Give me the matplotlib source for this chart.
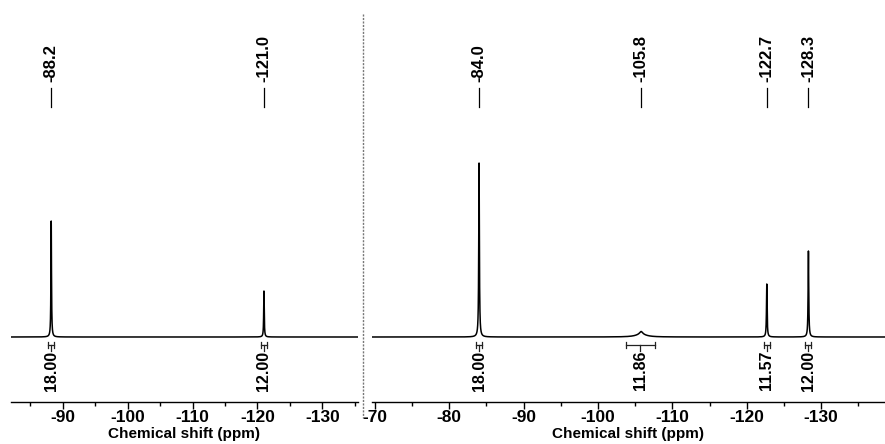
import numpy as np
import matplotlib.pyplot as plt
from matplotlib.lines import Line2D
from matplotlib.ticker import MultipleLocator

plt.rcParams['font.family'] = ['Liberation Sans', 'DejaVu Sans']
plt.rcParams['font.weight'] = 'bold'
plt.rcParams['axes.unicode_minus'] = False

# left spectrum: peak shifts (ppm), heights (arb.), half widths (ppm)
left_shifts = [-88.2, -121.0]
left_heights = [116, 46]
left_widths = [0.05, 0.05]
left_integrals = ["18.00", "12.00"]
left_int_ranges = [(-87.75, -88.65), (-120.55, -121.45)]

# right spectrum (the -105.8 signal is a broad base plus a small tip)
right_shifts = [-84.0, -105.8, -105.8, -122.7, -128.3]
right_heights = [174, 2.5, 3, 53, 86]
right_widths = [0.05, 0.9, 0.25, 0.05, 0.05]
right_labels = [-84.0, -105.8, -122.7, -128.3]
right_integrals = ["18.00", "11.86", "11.57", "12.00"]
right_int_ranges = [(-83.6, -84.4), (-103.7, -107.6), (-122.3, -123.1), (-127.9, -128.7)]


def spectrum(x, shifts, heights, widths):
    y = np.zeros_like(x)
    for s, h, w in zip(shifts, heights, widths):
        y += h * w**2 / ((x - s)**2 + w**2)
    return y


def draw_panel(ax, xlim, shifts, heights, widths, labels, integrals, ranges):
    x = np.linspace(xlim[0], xlim[1], 30000)
    ax.plot(x, spectrum(x, shifts, heights, widths), color="black", lw=1.1)
    ax.set_xlim(xlim)
    ax.set_ylim(-65, 337)
    for sp in ["top", "left", "right"]:
        ax.spines[sp].set_visible(False)
    ax.spines["bottom"].set_linewidth(1.0)
    ax.set_yticks([])
    ax.xaxis.set_major_locator(MultipleLocator(10))
    ax.xaxis.set_minor_locator(MultipleLocator(5))
    ax.tick_params(axis="x", which="major", length=5, width=1, labelsize=12.5, pad=1)
    ax.tick_params(axis="x", which="minor", length=3, width=1)
    for t in ax.get_xticklabels():
        t.set_fontweight("bold")
    ax.set_xlabel("Chemical shift (ppm)", fontsize=11, fontweight="bold", labelpad=1)

    tr = ax.get_xaxis_transform()
    for p in labels:
        ax.plot([p, p], [0.734, 0.781], transform=tr, color="black", lw=0.9)
        ax.text(p, 0.796, f"{p:.1f}", transform=tr, rotation=90, ha="center",
                va="bottom", fontsize=12, fontweight="bold")

    # integral brackets below the baseline
    for val, (a, b) in zip(integrals, ranges):
        c = (a + b) / 2
        ax.plot([a, b], [-8, -8], color="#222222", lw=0.9)
        ax.plot([a, a], [-5, -11], color="#222222", lw=0.9)
        ax.plot([b, b], [-5, -11], color="#222222", lw=0.9)
        ax.plot([c, c], [-8, -14], color="#222222", lw=0.9)
        ax.text(c, -13.5, val, rotation=90, ha="center", va="top",
                fontsize=11.5, fontweight="bold")


fig = plt.figure(figsize=(8.85, 4.44), dpi=100)
ax1 = fig.add_axes([11 / 885, 42 / 444, 347 / 885, 402 / 444])
ax2 = fig.add_axes([372 / 885, 42 / 444, 513 / 885, 402 / 444])

draw_panel(ax1, (-82, -135.5), left_shifts, left_heights, left_widths,
           left_shifts, left_integrals, left_int_ranges)
draw_panel(ax2, (-69.6, -138.6), right_shifts, right_heights, right_widths,
           right_labels, right_integrals, right_int_ranges)

# dotted divider between the two spectra
fig.add_artist(Line2D([363 / 885, 363 / 885], [0.968, 0.059], transform=fig.transFigure,
                      color="#777777", lw=1, linestyle=(0, (1.5, 1))))

fig.savefig("out.png", dpi=100)
